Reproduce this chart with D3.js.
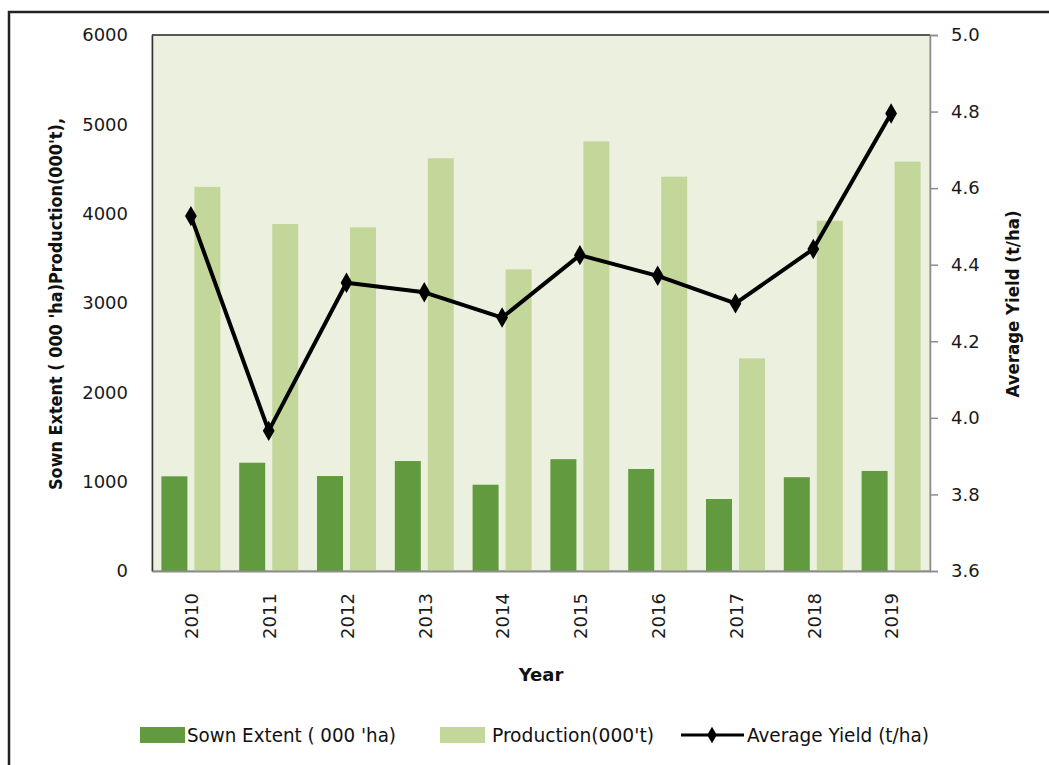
<!DOCTYPE html>
<html>
<head>
<meta charset="utf-8">
<script src="https://cdn.jsdelivr.net/npm/d3@7"></script>
<style>
  body { margin: 0; background: #fff; }
  svg { display: block; }
</style>
</head>
<body>
<svg id="chart" width="1049" height="765"></svg>
<script>
/* dados */
var anos = ["2010","2011","2012","2013","2014","2015","2016","2017","2018","2019"];
var area_semeada = [1060, 1212, 1063, 1231, 966, 1252, 1142, 806, 1050, 1120];
var producao = [4300, 3884, 3847, 4620, 3377, 4810, 4414, 2381, 3921, 4582];
var rendimento = [4.527, 3.966, 4.353, 4.328, 4.262, 4.425, 4.371, 4.299, 4.441, 4.795];
var ticks_esq = [0, 1000, 2000, 3000, 4000, 5000, 6000];
var ticks_dir = [3.6, 3.8, 4.0, 4.2, 4.4, 4.6, 4.8, 5.0];
var series = ["Sown Extent ( 000 'ha)", "Production(000't)", "Average Yield (t/ha)"];

var cor_escura = "#629b3f";
var cor_clara = "#c4d79b";
var fonte_num = "'DejaVu Sans', Verdana, sans-serif";
var fonte_cal = "'DejaVu Sans Condensed', 'Liberation Sans Narrow', sans-serif";

var svg = d3.select("#chart");
var esq = 152, dir = 930, topo = 35, base = 571;

// moldura externa
svg.append("rect").attr("x", 9).attr("y", 12).attr("width", 1060).attr("height", 780)
  .attr("fill", "none").attr("stroke", "#222").attr("stroke-width", 2.5);

var x = d3.scaleBand().domain(anos).range([esq, dir]).padding(0);
var xSub = d3.scaleBand().domain([0, 1]).range([0, x.bandwidth()])
  .paddingInner(0.212).paddingOuter(0.285);
var yEsq = d3.scaleLinear().domain([0, 6000]).range([base, topo]);
var yDir = d3.scaleLinear().domain([3.6, 5.0]).range([base, topo]);

// area do grafico
svg.append("rect").attr("x", esq).attr("y", topo).attr("width", dir - esq).attr("height", base - topo)
  .attr("fill", "#ebf1de").attr("stroke", "#9a9a9a").attr("stroke-width", 1);
svg.append("line").attr("x1", esq).attr("x2", dir).attr("y1", topo).attr("y2", topo)
  .attr("stroke", "#333").attr("stroke-width", 1.5);

// barras
var linhas = anos.map(function(a, i){ return {ano: a, v: [area_semeada[i], producao[i]]}; });
var grupos = svg.selectAll("g.ano").data(linhas).enter().append("g")
  .attr("transform", function(d){ return "translate(" + x(d.ano) + ",0)"; });
grupos.selectAll("rect").data(function(d){ return d.v; }).enter().append("rect")
  .attr("x", function(d, i){ return xSub(i); })
  .attr("width", xSub.bandwidth())
  .attr("y", function(d){ return yEsq(d); })
  .attr("height", function(d){ return base - yEsq(d); })
  .attr("fill", function(d, i){ return i == 0 ? cor_escura : cor_clara; });

// eixo esquerdo
var eixoEsq = svg.append("g").attr("transform", "translate(" + esq + ",0)")
  .call(d3.axisLeft(yEsq).tickValues(ticks_esq).tickSize(0).tickPadding(24).tickFormat(d3.format("d")));
eixoEsq.select(".domain").attr("stroke", "#333").attr("stroke-width", 1.5);
eixoEsq.selectAll("text").attr("font-family", fonte_num).attr("font-size", 18).attr("fill", "#1a1a1a");

// eixo direito
var eixoDir = svg.append("g").attr("transform", "translate(" + dir + ",0)")
  .call(d3.axisRight(yDir).tickValues(ticks_dir).tickSize(8).tickPadding(13).tickFormat(d3.format(".1f")));
eixoDir.select(".domain").attr("stroke", "#8c8c8c").attr("stroke-width", 1.5);
eixoDir.selectAll("line").attr("stroke", "#8c8c8c").attr("stroke-width", 1.5);
eixoDir.selectAll("text").attr("font-family", fonte_num).attr("font-size", 18).attr("fill", "#1a1a1a");

// eixo x
var eixoX = svg.append("g").attr("transform", "translate(0," + base + ")")
  .call(d3.axisBottom(x).tickSize(0));
eixoX.select(".domain").attr("stroke", "#8c8c8c").attr("stroke-width", 2);
eixoX.selectAll("text")
  .attr("font-family", fonte_num).attr("font-size", 18).attr("fill", "#1a1a1a")
  .attr("text-anchor", "middle")
  .attr("transform", "translate(1,45) rotate(-90)")
  .attr("y", 0).attr("dy", "0.35em");

// linha de rendimento
var linha = d3.line()
  .x(function(d, i){ return x(anos[i]) + x.bandwidth() / 2; })
  .y(function(d){ return yDir(d); });
svg.append("path").datum(rendimento).attr("d", linha)
  .attr("fill", "none").attr("stroke", "#000").attr("stroke-width", 4).attr("stroke-linejoin", "round");
svg.selectAll("path.ponto").data(rendimento).enter().append("path").attr("class", "ponto")
  .attr("d", d3.symbol().type(d3.symbolDiamond).size(120))
  .attr("transform", function(d, i){ return "translate(" + (x(anos[i]) + x.bandwidth() / 2) + "," + yDir(d) + ")"; })
  .attr("fill", "#000");

// titulos
svg.append("text").attr("transform", "translate(62,304) rotate(-90)")
  .attr("text-anchor", "middle").attr("font-family", fonte_cal).attr("font-weight", "bold")
  .attr("font-size", 17).attr("fill", "#111")
  .attr("textLength", 372).attr("lengthAdjust", "spacingAndGlyphs")
  .text("Sown Extent ( 000 'ha)Production(000't),");
svg.append("text").attr("transform", "translate(1019,304) rotate(-90)")
  .attr("text-anchor", "middle").attr("font-family", fonte_cal).attr("font-weight", "bold")
  .attr("font-size", 17).attr("fill", "#111")
  .attr("textLength", 187).attr("lengthAdjust", "spacingAndGlyphs")
  .text(series[2]);
svg.append("text").attr("x", 541).attr("y", 681)
  .attr("text-anchor", "middle").attr("font-family", fonte_num).attr("font-weight", "bold")
  .attr("font-size", 18).attr("fill", "#111")
  .text("Year");

// legenda
var leg = svg.append("g").attr("font-family", fonte_cal).attr("font-size", 20).attr("fill", "#111");
leg.append("rect").attr("x", 140).attr("y", 727).attr("width", 45).attr("height", 16).attr("fill", cor_escura);
leg.append("text").attr("x", 187).attr("y", 742).attr("textLength", 209).attr("lengthAdjust", "spacingAndGlyphs").text(series[0]);
leg.append("rect").attr("x", 440).attr("y", 727).attr("width", 45).attr("height", 16).attr("fill", cor_clara);
leg.append("text").attr("x", 492).attr("y", 742).attr("textLength", 162).attr("lengthAdjust", "spacingAndGlyphs").text(series[1]);
leg.append("line").attr("x1", 681).attr("x2", 744).attr("y1", 735).attr("y2", 735)
  .attr("stroke", "#000").attr("stroke-width", 3);
leg.append("path").attr("d", d3.symbol().type(d3.symbolDiamond).size(80))
  .attr("transform", "translate(712,735)").attr("fill", "#000");
leg.append("text").attr("x", 747).attr("y", 742).attr("textLength", 182).attr("lengthAdjust", "spacingAndGlyphs").text(series[2]);
</script>
</body>
</html>
